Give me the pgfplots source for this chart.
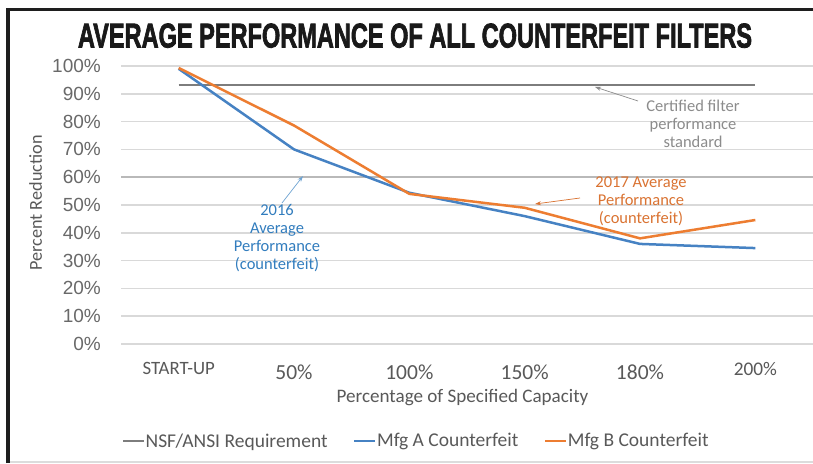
\documentclass[border=0pt]{standalone}
\usepackage{pgfplots}
\pgfplotsset{compat=1.18}
\usepackage{fontspec}
\usepackage{graphicx}
\setmainfont{Carlito}
\newfontfamily\arialf{Liberation Sans}
\newfontfamily\titlef[BoldFeatures={FakeBold=2.5}]{Liberation Sans}
\usetikzlibrary{arrows.meta}

\definecolor{framec}{RGB}{30,30,30}
\definecolor{lightc}{RGB}{220,220,220}
\definecolor{gridc}{RGB}{217,217,217}
\definecolor{gridd}{RGB}{185,185,185}
\definecolor{ytickc}{RGB}{105,105,105}
\definecolor{labelc}{RGB}{89,89,89}
\definecolor{nsfc}{RGB}{125,125,125}
\definecolor{bluec}{RGB}{70,130,195}
\definecolor{orangec}{RGB}{237,125,49}
\definecolor{annogray}{RGB}{140,140,140}
\definecolor{annoorange}{RGB}{218,115,50}
\definecolor{annoblue}{RGB}{50,125,190}

\begin{document}
\begin{tikzpicture}
\useasboundingbox (0pt,0pt) rectangle (813pt,463pt);
\fill[white] (0pt,0pt) rectangle (813pt,463pt);
% frame
\draw[framec, line width=3.5pt] (8pt,0pt) -- (8pt,453.5pt) -- (813pt,453.5pt);
\draw[lightc, line width=2pt] (10pt,1pt) -- (813pt,1pt);
% title
\node[anchor=base, inner sep=0pt, text=black!90] at (415pt,415.5pt)
  {\resizebox{674pt}{24pt}{\titlef\bfseries AVERAGE PERFORMANCE OF ALL COUNTERFEIT FILTERS}};

\begin{axis}[
  at={(121pt,119pt)}, anchor=south west,
  scale only axis, width=692pt, height=278pt,
  xmin=-0.5, xmax=5.5, ymin=0, ymax=100,
  axis line style={draw=none},
  major tick length=0pt,
  clip=false,
  ytick={0,10,...,100},
  yticklabels={0\%,10\%,20\%,30\%,40\%,50\%,60\%,70\%,80\%,90\%,100\%},
  yticklabel style={font=\arialf\fontsize{19}{19}\selectfont, text=ytickc, anchor=east, inner sep=0pt, xshift=-20pt},
  ymajorgrids,
  major grid style={gridc, line width=1.5pt},
  extra y ticks={60},
  extra y tick labels={},
  extra y tick style={major grid style={gridd, line width=1.6pt}},
  xtick={0,1,2,3,4,5},
  xticklabels={
    {\raisebox{5.8pt}[0pt][0pt]{\fontsize{18.8}{19}\selectfont START-UP}},
    {\raisebox{0pt}[0pt][0pt]{50\%}},
    {\raisebox{0pt}[0pt][0pt]{100\%}},
    {\raisebox{0pt}[0pt][0pt]{150\%}},
    {\raisebox{0pt}[0pt][0pt]{180\%}},
    {\raisebox{4.7pt}[0pt][0pt]{\fontsize{19.3}{19}\selectfont 200\%}}},
  xticklabel style={font=\fontsize{21.5}{22}\selectfont, text=labelc, anchor=center, inner sep=0pt, yshift=-35.8pt},
  xlabel={Percentage of Specified Capacity},
  xlabel style={at={(axis description cs:0.4935,-0.2122)}, anchor=base, inner sep=0pt, font=\fontsize{19.1}{20}\selectfont, text=labelc},
  ylabel={Percent Reduction},
  ylabel style={at={(axis description cs:-0.1142,0.5072)}, anchor=base, inner sep=0pt, font=\fontsize{18.2}{19}\selectfont, text=labelc},
  legend columns=3,
  legend style={at={(axis description cs:0.0014,-0.349)}, anchor=west, draw=none, fill=none,
    inner sep=0pt, outer sep=0pt,
    font=\fontsize{19.5}{20}\selectfont, text=labelc,
    nodes={inner sep=0.5pt},
    /tikz/every even column/.append style={column sep=25pt}},
  legend image code/.code={\draw[#1] (0pt,0pt) -- (21pt,0pt);},
]
\addplot[nsfc, line width=2.2pt] coordinates {(0,93.2) (5,93.2)};
\addlegendentry{NSF/ANSI Requirement}
\addplot[bluec, line width=2.5pt] coordinates {(0,99) (1,70) (2,54.4) (3,46) (4,36) (5,34.5)};
\addlegendentry{Mfg A Counterfeit}
\addplot[orangec, line width=2.5pt] coordinates {(0,99.3) (1,78.6) (2,54) (3,49) (4,38) (5,44.6)};
\addlegendentry{Mfg B Counterfeit}
\end{axis}

% annotations
\node[align=center, text=annogray, font=\fontsize{16.5}{18}\selectfont, inner sep=0pt] at (693pt,339pt)
  {Certified filter\\performance\\standard};
\draw[annogray, line width=0.7pt, -{Stealth[length=6pt,width=4pt]}] (638pt,362pt) -- (595pt,376pt);

\node[align=center, text=annoorange, font=\fontsize{16.5}{18}\selectfont, inner sep=0pt] at (641pt,262pt)
  {2017 Average\\Performance\\(counterfeit)};
\draw[annoorange, line width=0.7pt, -{Stealth[length=6pt,width=4pt]}] (580pt,265pt) -- (535pt,259pt);

\node[align=center, text=annoblue, font=\fontsize{16.5}{18}\selectfont, inner sep=0pt] at (277pt,225pt)
  {2016\\Average\\Performance\\(counterfeit)};
\draw[annoblue!70, line width=0.7pt, -{Stealth[length=6pt,width=4pt]}] (282pt,260pt) -- (303pt,287pt);
\end{tikzpicture}
\end{document}
